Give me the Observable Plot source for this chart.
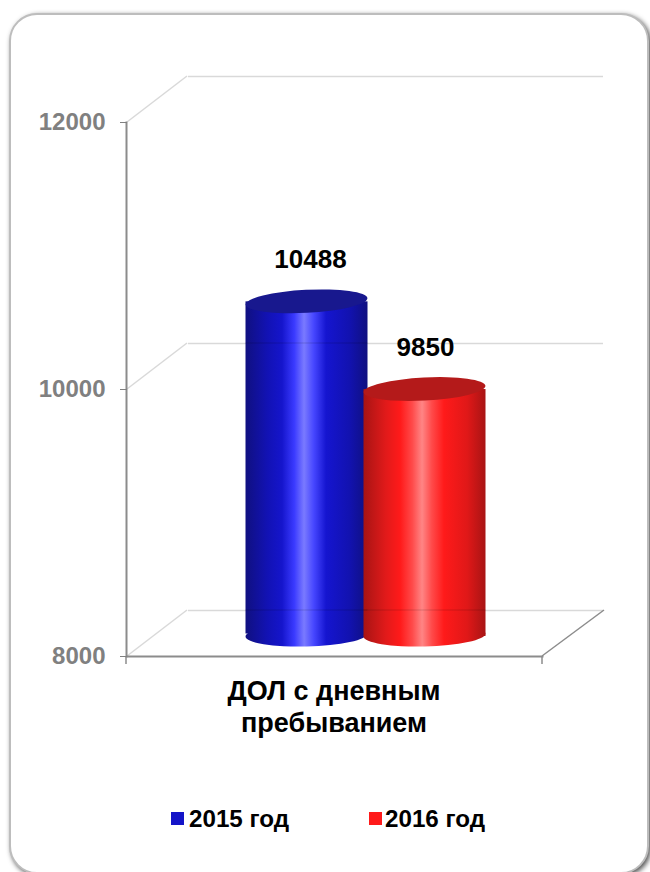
<!DOCTYPE html>
<html><head><meta charset="utf-8">
<script src="https://cdn.jsdelivr.net/npm/d3@7"></script>
<script src="https://cdn.jsdelivr.net/npm/@observablehq/plot@0.6"></script>
<style>
html,body{margin:0;padding:0;background:#fff}
#page{position:relative;width:650px;height:872px;overflow:hidden;font-family:"Liberation Sans",Arial,sans-serif}
#card{position:absolute;left:9px;top:13px;width:640px;height:861px;box-sizing:border-box;background:#fff;border:2px solid #bdbdbd;border-radius:28px;box-shadow:2px 2px 5px #555}
#chart{position:absolute;left:0;top:0}
#legend{position:absolute;left:0;top:805px;width:650px;height:28px;font-weight:bold;font-size:24.2px;color:#000}
#legend span.t{position:absolute;top:1px;line-height:26px;white-space:nowrap}
#legend i{position:absolute;top:7px;width:13px;height:13px}
</style></head>
<body><div id="page"><div id="card"></div><div id="chart"></div><div id="legend"></div></div>
<script>
const category = "ДОЛ с дневным\nпребыванием";
const seriesNames = ["2015 год", "2016 год"];
const seriesValues = [10488, 9850];
const seriesColors = ["#1414c8", "#ff1a1a"];
const yTicks = [8000, 10000, 12000];
const rows = seriesNames.map((name, i) => ({name, value: seriesValues[i]}));

const shadeStops = [
  [["0%","#101080"],["18%","#1212b4"],["30%","#1515cc"],["40%","#3a3aff"],["48%","#7a7aff"],["56%","#4646ff"],["66%","#1515d0"],["85%","#1212b0"],["100%","#101080"]],
  [["0%","#a81414"],["18%","#e01a1a"],["30%","#ff1a1a"],["40%","#ff4a4a"],["48%","#ff8585"],["56%","#ff4a4a"],["66%","#ff1a1a"],["85%","#e01818"],["100%","#a81414"]]
];
const topColors = ["#18188e", "#b41a1a"];
const depthX = 62, depthY = -46, barDx = 31, barDy = -21, topDy = [-22.5, -20];

const defs = () => {
  const g = d3.create("svg:defs");
  shadeStops.forEach((stops, i) => {
    const lg = g.append("linearGradient").attr("id", "cyl" + i);
    stops.forEach(([o, c]) => lg.append("stop").attr("offset", o).attr("stop-color", c));
  });
  return g.node();
};

const walls = (index, {y}, values, {marginLeft, marginRight, width}) => {
  const g = d3.create("svg:g").attr("fill", "none");
  const x0 = marginLeft, x1 = width - marginRight;
  yTicks.forEach(t => g.append("line").attr("x1", x0).attr("y1", y(t)).attr("x2", x0 + 60).attr("y2", y(t) + depthY).attr("stroke", "#d9d9d9").attr("stroke-width", 1.5));
  g.append("line").attr("x1", x1).attr("y1", y(8000)).attr("x2", x1 + depthX).attr("y2", y(8000) + depthY).attr("stroke", "#8c8c8c").attr("stroke-width", 1.5);
  g.append("line").attr("x1", x0 - 1).attr("y1", y(8000)).attr("x2", x0 - 1).attr("y2", y(8000) + 8).attr("stroke", "#8c8c8c").attr("stroke-width", 1.5);
  g.append("line").attr("x1", x1).attr("y1", y(8000)).attr("x2", x1).attr("y2", y(8000) + 8).attr("stroke", "#8c8c8c").attr("stroke-width", 1.5);
  return g.node();
};

const cylinderEnds = (part) => (index, {x, y}) => {
  const g = d3.create("svg:g");
  const bw = x.bandwidth();
  rows.forEach((r, i) => {
    const rx = bw / 2 + 2, ry = 11.5;
    const cx = x(r.name) + bw / 2 + barDx - 0.5;
    const topY = y(r.value) + topDy[i];
    if (part === "bottom") {
      g.append("ellipse").attr("cx", cx).attr("cy", y(8000) + barDy).attr("rx", rx).attr("ry", ry)
        .attr("transform", `rotate(-1.5 ${cx} ${y(8000) + barDy})`).attr("fill", `url(#cyl${i})`);
    } else if (part === "top") {
      g.append("ellipse").attr("cx", cx).attr("cy", topY).attr("rx", rx).attr("ry", ry)
        .attr("transform", `rotate(-3 ${cx} ${topY})`).attr("fill", topColors[i]);
    } else {
      yTicks.forEach(t => {
        const ly = y(t) + depthY;
        if (ly > topY + ry && ly < y(8000) + barDy + ry) {
          g.append("line").attr("x1", cx - rx).attr("x2", cx + rx).attr("y1", ly).attr("y2", ly).attr("stroke", "#000").attr("stroke-opacity", 0.1).attr("stroke-width", 1.5);
        }
      });
    }
  });
  return g.node();
};

const labelStyle = {fontWeight: "bold", fontSize: 26, fill: "#000", textAnchor: "middle"};

const plot = Plot.plot({
  width: 650, height: 800,
  marginLeft: 127, marginRight: 108, marginTop: 122, marginBottom: 144,
  style: {fontFamily: "'Liberation Sans', Arial, sans-serif", background: "transparent"},
  x: {domain: seriesNames, paddingInner: 0, paddingOuter: 0.744, axis: null},
  y: {domain: [8000, 12000], axis: null},
  marks: [
    defs,
    Plot.ruleY(yTicks, {dx: depthX - 1, dy: depthY, stroke: "#d9d9d9", strokeWidth: 1.5}),
    walls,
    Plot.frame({anchor: "left", stroke: "#8c8c8c", strokeWidth: 2, dx: -1}),
    Plot.frame({anchor: "bottom", stroke: "#8c8c8c", strokeWidth: 2}),
    Plot.axisY({ticks: yTicks, tickFormat: d => String(d), anchor: "left", tickSize: 7, tickPadding: 15, color: "#808080", fontWeight: "bold", fontSize: 24, label: null}),
    cylinderEnds("bottom"),
    ...rows.map((r, i) => Plot.barY([r], {x: "name", y1: 8000, y2: "value", dx: barDx - 0.5, dy: topDy[i], insetLeft: -2, insetRight: -2, fill: `url(#cyl${i})`})),
    cylinderEnds("top"),
    cylinderEnds("overlay"),
    Plot.text([rows[0]], {x: "name", y: "value", text: d => String(d.value), dx: 34, dy: -65, ...labelStyle}),
    Plot.text([rows[1]], {x: "name", y: "value", text: d => String(d.value), dx: 31, dy: -62, ...labelStyle}),
    Plot.text([category], {frameAnchor: "bottom", dx: -1, dy: 49, lineHeight: 1.185, fontWeight: "bold", fontSize: 27, fill: "#000", textAnchor: "middle", lineAnchor: "middle"})
  ]
});
document.getElementById("chart").appendChild(plot);

const legend = d3.select("#legend");
const swatchX = [171, 369], textX = [189, 385];
seriesNames.forEach((n, i) => {
  legend.append("i").style("left", swatchX[i] + "px").style("background", seriesColors[i]);
  legend.append("span").attr("class", "t").style("left", textX[i] + "px").text(n);
});
</script></body></html>
